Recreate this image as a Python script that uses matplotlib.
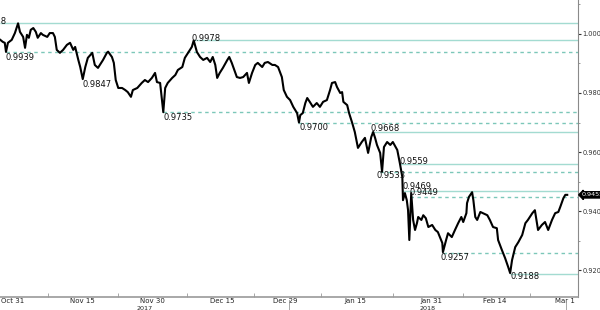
import matplotlib
matplotlib.use("Agg")
import matplotlib.pyplot as plt
import matplotlib.transforms as mtransforms

# trading-day index (0 = Oct 31 2017) and price
day_idx = [-2.0, -1.6, -1.3, -1.1, -0.8, -0.2, 0.3, 0.8, 1.1, 1.6, 1.9, 2.2, 2.5, 2.8,
           3.2, 3.6, 3.9, 4.4, 4.7, 5.4, 5.8, 6.3, 6.6, 6.9, 7.4, 7.9, 8.5, 9.0, 9.5,
           9.8, 10.3, 10.6, 11.0, 11.4, 11.8, 12.5, 12.9, 13.4, 13.7,
           14.2, 14.8, 15.0, 15.6, 15.9, 16.2, 16.6, 17.2, 17.7, 18.1, 18.6, 18.9,
           19.6, 20.3, 20.8, 21.3, 21.9, 22.4, 22.7, 23.2, 23.7, 24.0, 24.4, 25.1,
           25.6, 26.0, 26.7, 27.1, 27.6, 28.2, 28.5, 29.0, 29.5,
           30.0, 30.6, 31.1, 31.5, 31.9, 32.2, 32.6, 33.1, 33.8, 34.1, 34.5, 34.9,
           35.3, 35.8, 36.3, 36.9, 37.2, 37.7, 38.2, 38.6, 39.3, 39.7, 40.2, 40.9,
           41.3, 41.8, 42.4, 42.7, 43.2, 43.7, 44.2, 44.8, 45.1,
           45.3, 45.7, 46.1, 46.4, 46.8, 47.3, 47.9, 48.4, 48.9, 49.5, 50.0, 50.3,
           50.8, 51.1, 51.6, 51.9, 52.1, 52.7, 53.0, 53.5, 53.9, 54.4, 55.0, 55.5,
           56.0, 56.5, 56.8, 57.1, 57.4, 57.9, 58.2, 58.5, 59.0, 59.5, 59.9, 60.6,
           61.0, 61.4, 61.5, 61.8, 62.1, 62.3, 62.5, 62.8, 63.1, 63.4, 63.7, 63.9,
           64.4, 64.7, 65.1, 65.5, 66.1, 66.6, 67.0, 67.7, 67.8, 68.3, 68.6, 69.2,
           69.7, 70.2, 70.7, 71.0, 71.5, 71.6, 71.9, 72.4, 72.6, 72.9, 73.2, 73.7,
           74.1, 74.8, 75.2, 75.7, 76.3, 76.5, 77.1, 77.6, 78.1, 78.4, 78.7, 79.2,
           79.7, 80.3, 80.8, 81.2, 81.9, 82.3, 82.8, 83.4, 83.9, 84.4, 85.0, 85.5,
           86.0, 86.3, 86.8, 87.1, 87.4]
price = [0.9980, 0.9973, 0.9970, 0.9939, 0.9970, 0.9980, 1.0003, 1.0036, 1.0007, 0.9990,
         0.9953, 0.9997, 0.9987, 1.0014, 1.0020, 1.0007, 0.9987, 1.0003, 0.9997, 0.9990,
         1.0003, 1.0003, 0.9990, 0.9946, 0.9936, 0.9946, 0.9963, 0.9970, 0.9946, 0.9956,
         0.9912, 0.9888, 0.9847, 0.9888, 0.9919, 0.9936, 0.9895, 0.9885, 0.9895,
         0.9912, 0.9936, 0.9940, 0.9922, 0.9902, 0.9844, 0.9817, 0.9817, 0.9810, 0.9803,
         0.9787, 0.9810, 0.9817, 0.9834, 0.9844, 0.9837, 0.9851, 0.9868, 0.9837, 0.9834,
         0.9735, 0.9817, 0.9834, 0.9851, 0.9861, 0.9878, 0.9888, 0.9919, 0.9936, 0.9956,
         0.9978, 0.9939, 0.9922,
         0.9912, 0.9919, 0.9905, 0.9922, 0.9895, 0.9851, 0.9868, 0.9885, 0.9912, 0.9922,
         0.9902, 0.9878, 0.9854, 0.9851, 0.9854, 0.9868, 0.9834, 0.9868, 0.9895, 0.9902,
         0.9888, 0.9902, 0.9905, 0.9895, 0.9895, 0.9888, 0.9854, 0.9810, 0.9787, 0.9776,
         0.9753, 0.9732, 0.9700,
         0.9725, 0.9732, 0.9766, 0.9783, 0.9770, 0.9753, 0.9766, 0.9753, 0.9770, 0.9776,
         0.9810, 0.9834, 0.9837, 0.9820, 0.9800, 0.9803, 0.9770, 0.9759, 0.9732, 0.9698,
         0.9668, 0.9614, 0.9634, 0.9648, 0.9597, 0.9651, 0.9668, 0.9648, 0.9624, 0.9597,
         0.9533, 0.9617, 0.9634, 0.9624, 0.9634, 0.9607,
         0.9563, 0.9515, 0.9437, 0.9461, 0.9437, 0.9403, 0.9302, 0.9461, 0.9370, 0.9336,
         0.9359, 0.9380, 0.9370, 0.9386, 0.9376, 0.9346, 0.9353, 0.9336, 0.9329, 0.9292,
         0.9261, 0.9302, 0.9325, 0.9312, 0.9336, 0.9359, 0.9380, 0.9363, 0.9393, 0.9427,
         0.9448, 0.9464, 0.9437, 0.9380, 0.9370, 0.9397, 0.9393, 0.9386, 0.9370, 0.9346,
         0.9342, 0.9302, 0.9268, 0.9241, 0.9210, 0.9190, 0.9234, 0.9278, 0.9295, 0.9319,
         0.9359, 0.9370, 0.9393, 0.9403, 0.9336, 0.9353, 0.9363, 0.9336, 0.9370, 0.9393,
         0.9397, 0.9414, 0.9444, 0.9455, 0.9455]

# labelled support / resistance levels
level_values = [1.0038, 0.9978, 0.9939, 0.9847, 0.9735, 0.9700, 0.9668, 0.9559,
                0.9533, 0.9469, 0.9449, 0.9257, 0.9188]
level_start = [-2.05, 28.5, -1.1, 11.0, 23.7, 45.0, 56.5, 61.0, 57.9, 61.4, 62.6, 67.8, 78.4]
level_kind = ['high', 'high', 'low', 'none', 'low', 'low', 'high', 'high',
              'low', 'high', 'low', 'low', 'high']

tick_days = [0, 11, 22, 33, 43, 54, 66, 76, 87]
tick_labels = ['Oct 31', 'Nov 15', 'Nov 30', 'Dec 15', 'Dec 29', 'Jan 15', 'Jan 31', 'Feb 14', 'Mar 1']
years = ['2017', '2018']
year_days = [20.7, 65.3]
last_price = 0.9455

fig = plt.figure(figsize=(6, 3.1), dpi=100)
ax = fig.add_axes([0, 13 / 310, 578 / 600, 297 / 310])
xmin, xmax = -2.05, 89.1
ax.set_xlim(xmin, xmax)
ax.set_ylim(0.9109, 1.0115)

solid_col = '#a3dbd1'
dash_col = '#7cc7b9'
for val, start, kind in zip(level_values, level_start, level_kind):
    if kind == 'high':
        ax.hlines(val, start, xmax, color=solid_col, lw=1.0, zorder=1)
    elif kind == 'low':
        ax.hlines(val, start, xmax, color=dash_col, lw=1.0, linestyles=(0, (2.5, 2.5)), zorder=1)

ax.plot(day_idx, price, color='black', lw=1.5, zorder=3)

# level labels (pixel offsets from the level start point)
label_offsets = {
    1.0038: (6, 1), 0.9978: (-2, 2), 0.9939: (-1, -6), 0.9847: (0, -5),
    0.9735: (0, -5), 0.9700: (1, -5), 0.9668: (-1, 3), 0.9559: (0, 3),
    0.9533: (-4, -4), 0.9469: (0, 4), 0.9449: (0, 4), 0.9257: (-2, -4),
    0.9188: (0, -3),
}
for val, start in zip(level_values, level_start):
    dx, dy = label_offsets[val]
    if val == 1.0038:
        ax.annotate('%.4f' % val, xy=(0, val), xycoords=('axes fraction', 'data'),
                    xytext=(dx, dy), textcoords='offset pixels', ha='right', va='center',
                    fontsize=6, color='#111111', annotation_clip=False)
        continue
    ax.annotate('%.4f' % val, xy=(start, val), xytext=(dx, dy), textcoords='offset pixels',
                ha='left', va='center', fontsize=6, color='#111111', zorder=4)

# last price box
ax.annotate('%.4f' % last_price, xy=(1, last_price), xycoords=('axes fraction', 'data'),
            xytext=(4, 0), textcoords='offset pixels', ha='left', va='center',
            fontsize=4.6, color='white', annotation_clip=False,
            bbox=dict(boxstyle='larrow,pad=0.1', fc='black', ec='black'))

# axes styling
for side in ['left', 'top']:
    ax.spines[side].set_visible(False)
ax.spines['right'].set_color('#8a8a8a')
ax.spines['bottom'].set_color('#9a9a9a')
ax.spines['bottom'].set_linewidth(1.2)

ax.yaxis.tick_right()
ax.set_yticks([0.92, 0.94, 0.96, 0.98, 1.00])
ax.set_yticklabels(['0.9200', '0.9400', '0.9600', '0.9800', '1.0000'])
ax.set_yticks([0.93, 0.95, 0.97, 0.99, 1.01], minor=True)
ax.tick_params(axis='y', which='major', length=2, width=0.8, pad=1, labelsize=4.8,
               colors='#333333')
ax.tick_params(axis='y', which='minor', length=1.5, width=0.6, colors='#888888')

ax.set_xticks(tick_days)
ax.set_xticklabels(tick_labels)
mids = [(a + b) / 2 for a, b in zip(tick_days[:-1], tick_days[1:])]
ax.set_xticks(mids, minor=True)
ax.tick_params(axis='x', which='major', length=0, pad=1, labelsize=5, colors='#222222')
ax.tick_params(axis='x', which='minor', direction='in', length=3, width=0.6, colors='#999999')

trans = mtransforms.blended_transform_factory(ax.transData, ax.transAxes)
for yr, d in zip(years, year_days):
    ax.text(d, -0.038, yr, transform=trans, ha='center', va='center', fontsize=4.6,
            color='#222222', clip_on=False)
for d in [43.6, 87.2]:
    ax.plot([d, d], [-0.01, -0.05], transform=trans, color='#999999', lw=0.6, clip_on=False)

fig.savefig('out.png', dpi=100)
